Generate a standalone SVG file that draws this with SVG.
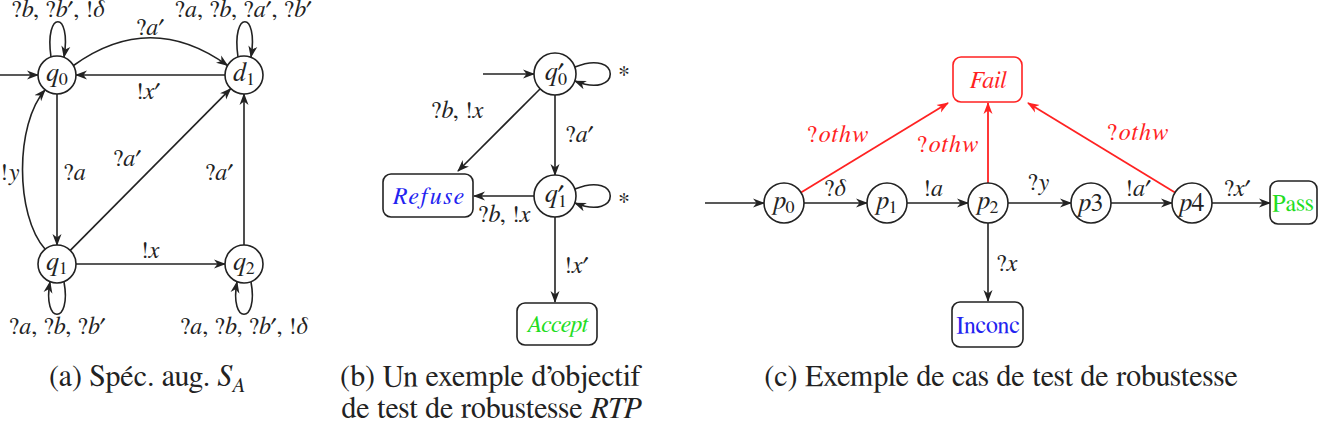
<svg xmlns="http://www.w3.org/2000/svg" width="1326" height="431" viewBox="0 0 1326 431">
<style>
.n{fill:#fff;stroke:#222;stroke-width:1.6}
.b{fill:#fff;stroke:#222;stroke-width:1.6}
.e{fill:none;stroke:#222;stroke-width:1.6;marker-end:url(#ah)}
.r{fill:none;stroke:#f22;stroke-width:1.8;marker-end:url(#ahr)}
text{font-family:FreeSerif,"DejaVu Serif",serif;font-size:24px;fill:#222}
.i{font-style:italic}
.s{font-size:18px}
.m{text-anchor:middle}
.nl{font-size:26px}
.ls{letter-spacing:1.5px}
.red{fill:#f22}
.blue{fill:#2323f0}
.green{fill:#22dd22}
.cap{font-size:30px}
</style>
<defs>
<marker id="ah" viewBox="0 0 12 10" refX="11" refY="5" markerWidth="12" markerHeight="10" markerUnits="userSpaceOnUse" orient="auto"><path d="M0,0.5 L12,5 L0,9.5 L3.5,5 z" fill="#222"/></marker>
<marker id="ahr" viewBox="0 0 12 10" refX="11" refY="5" markerWidth="12" markerHeight="10" markerUnits="userSpaceOnUse" orient="auto"><path d="M0,0.5 L12,5 L0,9.5 L3.5,5 z" fill="#f22"/></marker>
</defs>
<g id="connectors">
<path class="e" d="M0,75 L38,75"/>
<path class="e" d="M51,57 C44,10 72,10 64,57"/>
<path class="e" d="M238,57 C231,10 259,10 251,57"/>
<path class="e" d="M73.5,65.5 Q150.5,10 227.5,65.5"/>
<path class="e" d="M225,75 L76,75"/>
<path class="e" d="M57,94 L57,245"/>
<path class="e" d="M45,249 C15,215 15,124 45,90"/>
<path class="e" d="M70.3,250.4 L230.7,88.6"/>
<path class="e" d="M244,245 L244,94"/>
<path class="e" d="M76,264 L225,264"/>
<path class="e" d="M64,282 C72,325 42,325 50,282"/>
<path class="e" d="M251,282 C259,325 229,325 237,282"/>
<path class="e" d="M483,74 L534,74"/>
<path class="e" d="M575,67 C622,48 622,100 575,81"/>
<path class="e" d="M540,89 L458,171"/>
<path class="e" d="M555,95 L555,175"/>
<path class="e" d="M575,189 C622,170 622,222 575,203"/>
<path class="e" d="M534,196 L474,196"/>
<path class="e" d="M555,217 L555,302"/>
<path class="e" d="M705,203 L764,203"/>
<path class="e" d="M804,203 L867,203"/>
<path class="e" d="M907,203 L968,203"/>
<path class="e" d="M1008,203 L1071,203"/>
<path class="e" d="M1111,203 L1172,203"/>
<path class="e" d="M1212,203 L1270,203"/>
<path class="e" d="M988,223 L988,301"/>
<path class="r" d="M801,192.6 L948,103"/>
<path class="r" d="M988,183 L988,103"/>
<path class="r" d="M1175,192.6 L1028,103"/>
<g id="edge-labels">
<text class="m" x="58" y="17">?<tspan class="i">b</tspan>, ?<tspan class="i">b</tspan>′, !<tspan class="i">δ</tspan></text>
<text class="m" x="243" y="17">?<tspan class="i">a</tspan>, ?<tspan class="i">b</tspan>, ?<tspan class="i">a</tspan>′, ?<tspan class="i">b</tspan>′</text>
<text class="m" x="150" y="35">?<tspan class="i">a</tspan>′</text>
<text class="m" x="148" y="99">!<tspan class="i">x</tspan>′</text>
<text x="63" y="180">?<tspan class="i">a</tspan></text>
<text x="19" y="180" text-anchor="end">!<tspan class="i">y</tspan></text>
<text class="m" x="127" y="166">?<tspan class="i">a</tspan>′</text>
<text class="m" x="219" y="180">?<tspan class="i">a</tspan>′</text>
<text class="m" x="150" y="258">!<tspan class="i">x</tspan></text>
<text class="m" x="57" y="334">?<tspan class="i">a</tspan>, ?<tspan class="i">b</tspan>, ?<tspan class="i">b</tspan>′</text>
<text class="m" x="244" y="334">?<tspan class="i">a</tspan>, ?<tspan class="i">b</tspan>, ?<tspan class="i">b</tspan>′, !<tspan class="i">δ</tspan></text>
<text class="m" x="457" y="118">?<tspan class="i">b</tspan>, !<tspan class="i">x</tspan></text>
<text x="565" y="142">?<tspan class="i">a</tspan>′</text>
<text x="618" y="82">*</text>
<text x="618" y="209">*</text>
<text class="m" x="504" y="222">?<tspan class="i">b</tspan>, !<tspan class="i">x</tspan></text>
<text x="564" y="273">!<tspan class="i">x</tspan>′</text>
<text class="m" x="835" y="196">?<tspan class="i">δ</tspan></text>
<text class="m" x="933" y="196">!<tspan class="i">a</tspan></text>
<text class="m" x="1038" y="190">?<tspan class="i">y</tspan></text>
<text class="m" x="1138" y="196">!<tspan class="i">a</tspan>′</text>
<text class="m" x="1237" y="196">?<tspan class="i">x</tspan>′</text>
<text x="996" y="271">?<tspan class="i">x</tspan></text>
<text class="m red ls" x="838" y="142">?<tspan class="i">othw</tspan></text>
<text class="m red ls" x="948" y="152">?<tspan class="i">othw</tspan></text>
<text class="m red ls" x="1138" y="140">?<tspan class="i">othw</tspan></text>
</g>
</g>
<g id="q0"><circle class="n" cx="57" cy="75" r="19"/><text class="m nl" x="57" y="81"><tspan class="i">q</tspan><tspan class="s" dy="4">0</tspan></text></g>
<g id="d1"><circle class="n" cx="244" cy="75" r="19"/><text class="m nl" x="244" y="81"><tspan class="i">d</tspan><tspan class="s" dy="4">1</tspan></text></g>
<g id="q1"><circle class="n" cx="57" cy="264" r="19"/><text class="m nl" x="57" y="270"><tspan class="i">q</tspan><tspan class="s" dy="4">1</tspan></text></g>
<g id="q2"><circle class="n" cx="244" cy="264" r="19"/><text class="m nl" x="244" y="270"><tspan class="i">q</tspan><tspan class="s" dy="4">2</tspan></text></g>
<g id="qp0"><circle class="n" cx="555" cy="74" r="21"/><text class="m nl" x="556" y="80"><tspan class="i">q</tspan>′<tspan class="s" dx="-6" dy="5">0</tspan></text></g>
<g id="qp1"><circle class="n" cx="555" cy="196" r="21"/><text class="m nl" x="556" y="202"><tspan class="i">q</tspan>′<tspan class="s" dx="-6" dy="5">1</tspan></text></g>
<g id="refuse"><rect class="b" x="383" y="174" width="90" height="43" rx="8"/><text class="m i blue" x="429" y="204" letter-spacing="2">Refuse</text></g>
<g id="accept"><rect class="b" x="517" y="303" width="80" height="42" rx="8"/><text class="m i green" x="557" y="332">Accept</text></g>
<g id="p0"><circle class="n" cx="784" cy="203" r="20"/><text class="m nl" x="784" y="209"><tspan class="i">p</tspan><tspan class="s" dy="4">0</tspan></text></g>
<g id="p1"><circle class="n" cx="887" cy="203" r="20"/><text class="m nl" x="887" y="209"><tspan class="i">p</tspan><tspan class="s" dy="4">1</tspan></text></g>
<g id="p2"><circle class="n" cx="988" cy="203" r="20"/><text class="m nl" x="988" y="209"><tspan class="i">p</tspan><tspan class="s" dy="4">2</tspan></text></g>
<g id="p3"><circle class="n" cx="1091" cy="203" r="20"/><text class="m nl" x="1091" y="211"><tspan class="i">p</tspan>3</text></g>
<g id="p4"><circle class="n" cx="1192" cy="203" r="20"/><text class="m nl" x="1192" y="211"><tspan class="i">p</tspan>4</text></g>
<g id="fail"><rect x="953" y="57" width="69" height="45" rx="8" fill="#fff" stroke="#f22" stroke-width="1.6"/><text class="m i red" x="988" y="88">Fail</text></g>
<g id="inconc"><rect class="b" x="952" y="302" width="71" height="45" rx="8"/><text class="m blue" x="988" y="333">Inconc</text></g>
<g id="pass"><rect class="b" x="1270" y="181" width="47" height="43" rx="8"/><text class="m green" x="1293" y="211">Pass</text></g>
<g id="captions">
<text class="m cap" x="147" y="386">(a) Spéc. aug. <tspan class="i">S</tspan><tspan class="i" font-size="21" dy="6">A</tspan></text>
<text class="m cap" x="491" y="386">(b) Un exemple d’objectif</text>
<text class="m cap" x="491" y="418">de test de robustesse <tspan class="i">RTP</tspan></text>
<text class="m cap" x="1001" y="386">(c) Exemple de cas de test de robustesse</text>
</g>
</svg>
